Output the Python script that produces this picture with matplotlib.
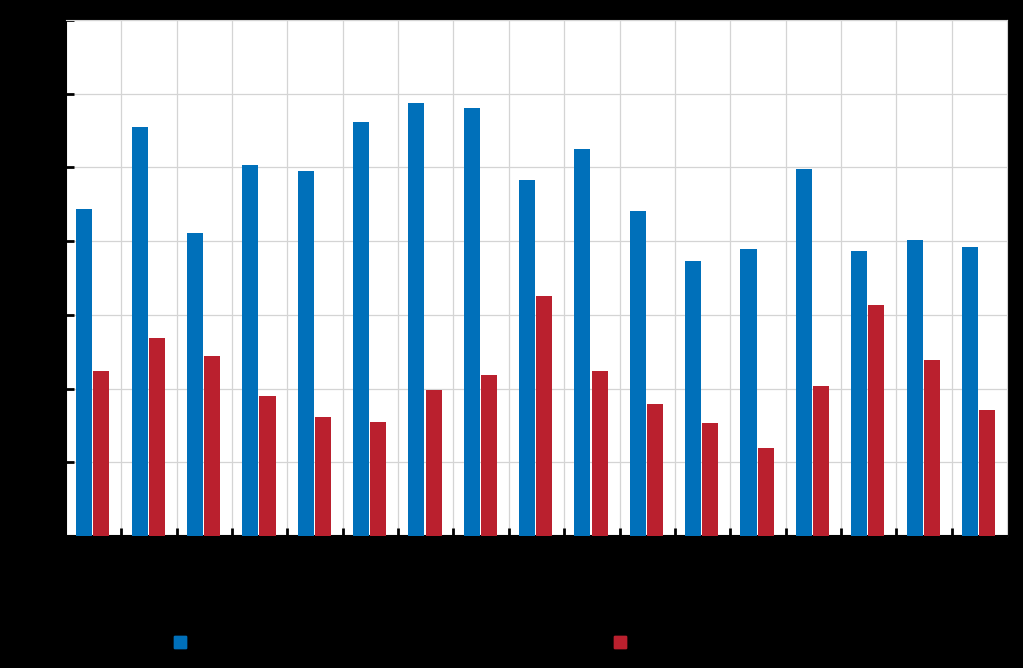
import matplotlib.pyplot as plt
from matplotlib.patches import Patch
import numpy as np

categories = [f"C{i}" for i in range(1, 18)]
series_names = ["Series A", "Series B"]
blue_values = [44.4, 55.5, 41.1, 50.3, 49.5, 56.2, 58.8, 58.1, 48.3, 52.5,
               44.1, 37.3, 38.9, 49.8, 38.7, 40.2, 39.2]
red_values = [22.4, 26.9, 24.4, 19.0, 16.1, 15.5, 19.8, 21.8, 32.6, 22.4,
              17.9, 15.3, 11.9, 20.4, 31.3, 23.9, 17.1]
y_ticks = [0, 10, 20, 30, 40, 50, 60, 70]

BLUE = "#0070ba"
RED = "#ba202e"
BG = "black"

fig = plt.figure(figsize=(10.23, 6.68), dpi=100, facecolor=BG)
ax = fig.add_axes([66 / 1023, 1 - 536 / 668, 941 / 1023, 516 / 668])
ax.set_facecolor("white")

x = np.arange(len(categories))
width = 0.29
ax.bar(x - 0.17, blue_values, width, color=BLUE, zorder=3)
ax.bar(x + 0.14, red_values, width, color=RED, zorder=3)

ax.set_xlim(-0.5, len(categories) - 0.5)
ax.set_ylim(0, 70)
ax.set_yticks(y_ticks)
ax.set_xticks(x)
ax.set_xticklabels(categories, color="black", fontsize=10)
ax.set_xticks(np.arange(0.5, len(categories) - 0.5), minor=True)
ax.tick_params(axis="x", which="major", length=0)
ax.tick_params(axis="x", which="minor", direction="in", length=6, width=2, color="black")
ax.tick_params(axis="y", direction="in", length=6, width=2, color="black", labelcolor="black")

ax.grid(True, axis="y", color="#d4d4d4", linewidth=0.9, zorder=0)
ax.grid(True, axis="x", which="minor", color="#d4d4d4", linewidth=0.9, zorder=0)
for name in ["top", "right"]:
    ax.spines[name].set_color("#d4d4d4")
for name in ["left", "bottom"]:
    ax.spines[name].set_color("black")
    ax.spines[name].set_linewidth(1.5)

for color, label, xpos in [(BLUE, series_names[0], 174), (RED, series_names[1], 614)]:
    leg = fig.legend(handles=[Patch(color=color, label=label)],
                     loc="center left", bbox_to_anchor=(xpos / 1023, 1 - 643 / 668),
                     frameon=False, handlelength=0.8, handleheight=0.8,
                     borderpad=0, borderaxespad=0, handletextpad=0.6, fontsize=11)
    for text in leg.get_texts():
        text.set_color("black")
    fig.add_artist(leg)

fig.savefig("out.png", dpi=100, facecolor=BG)
